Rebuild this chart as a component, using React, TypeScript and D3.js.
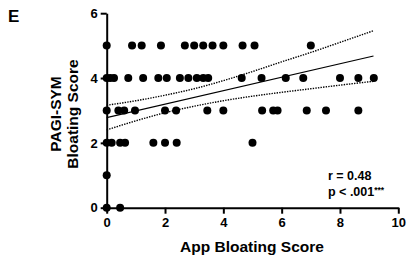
import React, { useEffect, useRef } from 'react'
import * as d3 from 'd3'

// App bloating score of each participant, grouped by PAGI-SYM bloating score
const pagi0App = [0, 0.46]
const pagi1App = [0]
const pagi2App = [0, 0.17, 0.46, 0.63, 1.6, 2.0, 2.4, 5.0]
const pagi3App = [0, 0.4, 0.6, 0.97, 2.0, 2.38, 3.45, 4.0, 5.33, 5.71, 5.86, 6.86, 7.52, 8.63]
const pagi4App = [0, 0.12, 0.25, 0.74, 1.25, 1.77, 2.06, 2.51, 2.8, 3.09, 3.31, 3.48, 4.63, 5.31, 6.14, 6.74, 8.0, 8.63, 9.16]
const pagi5App = [0, 0.87, 1.2, 1.86, 2.68, 3.0, 3.31, 3.63, 4.0, 4.66, 5.07, 7.0]

// linear fit and its 95% confidence band
const fitX = [0, 9.15]
const fitY = [2.78, 4.68]
const bandX = [0, 1, 2, 3, 4, 5, 6, 7, 8, 9.15]
const bandUpper = [3.16, 3.3, 3.47, 3.67, 3.92, 4.2, 4.5, 4.79, 5.1, 5.46]
const bandLower = [2.4, 2.68, 2.93, 3.13, 3.3, 3.44, 3.56, 3.67, 3.78, 3.9]

const xTicks = [0, 2, 4, 6, 8, 10]
const yTicks = [0, 2, 4, 6]

const W = 408
const H = 260
const FONT = '"Liberation Sans", Arial, sans-serif'

const points = [
  ...pagi0App.map((x) => ({ x, y: 0 })),
  ...pagi1App.map((x) => ({ x, y: 1 })),
  ...pagi2App.map((x) => ({ x, y: 2 })),
  ...pagi3App.map((x) => ({ x, y: 3 })),
  ...pagi4App.map((x) => ({ x, y: 4 })),
  ...pagi5App.map((x) => ({ x, y: 5 })),
]

const x = d3.scaleLinear().domain([0, 10]).range([106.7, 398.3])
const y = d3.scaleLinear().domain([0, 6]).range([207.7, 13.2])

const App = () => {
  const xAxisRef = useRef<SVGGElement>(null)
  const yAxisRef = useRef<SVGGElement>(null)

  useEffect(() => {
    const styleAxis = (g: d3.Selection<SVGGElement, unknown, null, undefined>) => {
      g.select('.domain').attr('stroke', '#000').attr('stroke-width', 2)
      g.selectAll('.tick line').attr('stroke', '#000').attr('stroke-width', 2)
      g.selectAll('.tick text')
        .attr('fill', '#000')
        .attr('font-family', FONT)
        .attr('font-weight', 'bold')
        .attr('font-size', 13)
    }
    const xg = d3.select(xAxisRef.current!)
    xg.call(
      d3
        .axisBottom(x)
        .tickValues(xTicks)
        .tickFormat(d3.format('d'))
        .tickSize(6)
        .tickSizeOuter(0)
        .tickPadding(4)
    )
    styleAxis(xg)
    const yg = d3.select(yAxisRef.current!)
    yg.call(
      d3
        .axisLeft(y)
        .tickValues(yTicks)
        .tickFormat(d3.format('d'))
        .tickSize(6)
        .tickSizeOuter(0)
        .tickPadding(3)
    )
    styleAxis(yg)
  }, [])

  const fitLine = d3
    .line<number>()
    .x((d) => x(d))
    .y((_, i) => y(fitY[i]))
  const upperLine = d3
    .line<number>()
    .x((d) => x(d))
    .y((_, i) => y(bandUpper[i]))
    .curve(d3.curveMonotoneX)
  const lowerLine = d3
    .line<number>()
    .x((d) => x(d))
    .y((_, i) => y(bandLower[i]))
    .curve(d3.curveMonotoneX)

  return (
    <svg
      width={W}
      height={H}
      style={{ position: 'absolute', left: 0, top: 0, background: '#fff' }}
    >
      <text x={8} y={22} fontFamily={FONT} fontWeight="bold" fontSize={17}>
        E
      </text>
      <g fontFamily={FONT} fontWeight="bold" fontSize={15.5} textAnchor="middle">
        <text transform="translate(61 114) rotate(-90)">PAGI-SYM</text>
        <text transform="translate(78 114) rotate(-90)">Bloating Score</text>
        <text x={252} y={252}>App Bloating Score</text>
      </g>

      <path d={upperLine(bandX) ?? ''} fill="none" stroke="#000" strokeWidth={1.4} strokeDasharray="1.4 1.2" />
      <path d={lowerLine(bandX) ?? ''} fill="none" stroke="#000" strokeWidth={1.4} strokeDasharray="1.4 1.2" />
      <path d={fitLine(fitX) ?? ''} fill="none" stroke="#000" strokeWidth={1.2} />

      <g ref={xAxisRef} transform={`translate(0 ${y(0)})`} />
      <g ref={yAxisRef} transform={`translate(${x(0)} 0)`} />

      {points.map((d, i) => (
        <circle key={i} cx={x(d.x)} cy={y(d.y)} r={4} fill="#000" />
      ))}

      <g fontFamily={FONT} fontWeight="bold" fontSize={12.5}>
        <text x={328} y={180}>r = 0.48</text>
        <text x={328} y={196}>
          p &lt; .001
          <tspan fontSize={8.5} dy={-3.5}>***</tspan>
        </text>
      </g>
    </svg>
  )
}

export default App
